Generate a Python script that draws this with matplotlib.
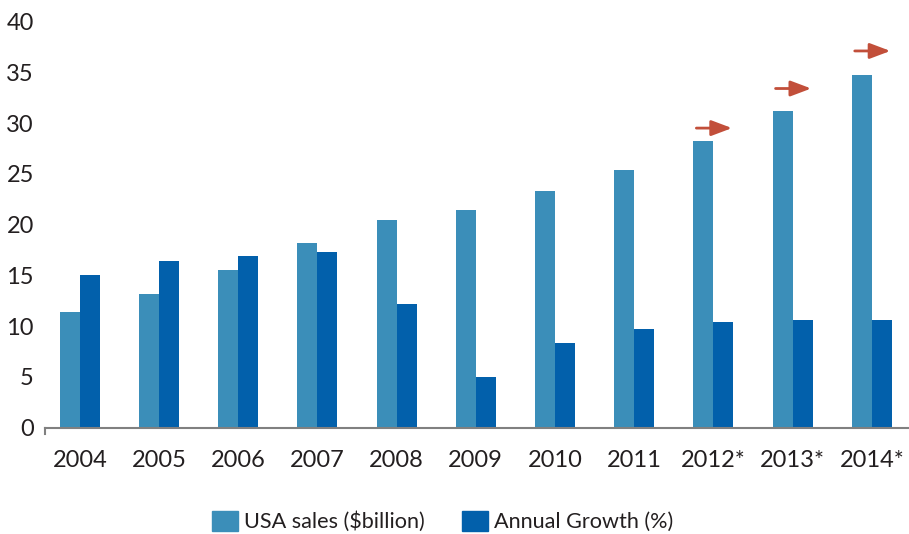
import matplotlib.pyplot as plt
import numpy as np
from matplotlib.patches import Patch

years = ["2004", "2005", "2006", "2007", "2008", "2009", "2010", "2011",
         "2012*", "2013*", "2014*"]
usa_sales = [11.4, 13.2, 15.5, 18.2, 20.4, 21.4, 23.3, 25.4, 28.2, 31.2, 34.7]
annual_growth = [15.0, 16.4, 16.9, 17.3, 12.2, 5.0, 8.3, 9.7, 10.4, 10.6, 10.6]

# forecast years get a trend arrow above the bars
arrow_idx = [8, 9, 10]
arrow_levels = [29.5, 33.4, 37.1]

light = "#3b8eb9"
dark = "#0260ab"
arrow_col = "#c24f3a"
text_col = "#231f20"

plt.rcParams['font.family'] = ['Lato', 'DejaVu Sans']

fig = plt.figure(figsize=(9.09, 5.34), dpi=100)
ax = fig.add_axes([0.0495, 0.1994, 0.9505, 0.7603])

x = np.arange(len(years))
w = 0.2525
ax.bar(x - w / 2, usa_sales, w, color=light)
ax.bar(x + w / 2, annual_growth, w, color=dark)

for i, lvl in zip(arrow_idx, arrow_levels):
    ax.annotate("", xy=(i + 0.235, lvl), xytext=(i - 0.215, lvl),
                arrowprops=dict(arrowstyle="-|>,head_length=1.25,head_width=0.47",
                                color=arrow_col, lw=2.0, shrinkA=0, shrinkB=0))

ax.set_xlim(-0.44, 10.47)
ax.set_ylim(0, 40)
ax.set_yticks(range(0, 41, 5))
ax.set_xticks(x)
ax.set_xticklabels(years)

for s in ["top", "right", "left"]:
    ax.spines[s].set_visible(False)
ax.spines["bottom"].set_color("#808080")
ax.spines["bottom"].set_linewidth(1.5)
ax.tick_params(axis="y", length=0, pad=8, labelsize=17, labelcolor=text_col)
ax.tick_params(axis="x", length=0, pad=16, labelsize=17, labelcolor=text_col)
# small tick where the baseline starts
ax.plot([-0.44, -0.44], [0, -0.65], color="#808080", lw=1.5, clip_on=False)

handles = [Patch(color=light, label="USA sales ($billion)"),
           Patch(color=dark, label="Annual Growth (%)")]
fig.legend(handles=handles, loc="center", bbox_to_anchor=(0.487, 0.023),
           ncol=2, frameon=False, fontsize=15.6, handlelength=1.2,
           handleheight=1.0, handletextpad=0.3, columnspacing=1.7,
           borderpad=0, labelcolor=text_col)

fig.savefig("out.png", dpi=100)
